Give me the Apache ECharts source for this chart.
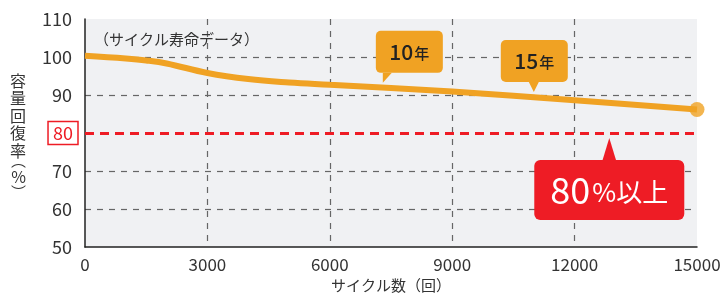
<!DOCTYPE html>
<html>
<head>
<meta charset="utf-8">
<script src="https://cdn.jsdelivr.net/npm/echarts@6/dist/echarts.min.js"></script>
<style>
  html, body { margin: 0; padding: 0; background: #fff; }
  #chart { width: 728px; height: 296px; }
</style>
</head>
<body>
<div id="chart"></div>
<script>
const cycles = [0, 1000, 1500, 2000, 3000, 4000, 5000, 6000, 9000, 12000, 15000]
const capacity = [100.3, 99.6, 99.1, 98.3, 95.8, 94.2, 93.3, 92.7, 90.9, 88.6, 86.2]
const xTicks = [0, 3000, 6000, 9000, 12000, 15000]
const yTicks = [50, 60, 70, 80, 90, 100, 110]
const threshold = 80
// callout anchors [cycles, value] and their text
const yearCallouts = [[7300, 93.2, '10'], [11000, 90.8, '15']]
const limitCallout = [[12850, 78.7, '80']]

const font = '"Noto Sans CJK JP", "Noto Sans", sans-serif'
const orange = '#f0a223'
const red = '#ee1c25'

const chart = echarts.init(document.getElementById('chart'))

function renderYear(params, api) {
  const p = api.coord([api.value(0), api.value(1)])
  const left = params.dataIndex === 0 ? p[0] - 7 : p[0] - 33
  const w = 67, h = 42
  const bottom = p[1] - 10
  const tri = params.dataIndex === 0
    ? [[p[0], p[1]], [p[0], bottom], [p[0] + 9, bottom]]
    : [[p[0], p[1]], [p[0] - 5, bottom], [p[0] + 5, bottom]]
  return {
    type: 'group',
    children: [
      { type: 'polygon', shape: { points: tri }, style: { fill: orange } },
      { type: 'rect', shape: { x: left, y: bottom - h, width: w, height: h, r: 5 }, style: { fill: orange } },
      {
        type: 'text',
        x: left + w / 2, y: bottom - h / 2,
        style: {
          text: '{a|' + api.value(2) + '}{b|年}',
          align: 'center', verticalAlign: 'middle',
          rich: {
            a: { fontSize: 21, fontFamily: font, fill: '#222', fontWeight: 500 },
            b: { fontSize: 15, fontFamily: font, fill: '#222', fontWeight: 500, padding: [3, 0, 0, 1] }
          }
        }
      }
    ]
  }
}

function renderLimit(params, api) {
  const p = api.coord([api.value(0), api.value(1)])
  const w = 150, h = 60
  const top = p[1] + 22
  const left = p[0] - 75
  return {
    type: 'group',
    children: [
      { type: 'polygon', shape: { points: [[p[0], p[1]], [p[0] - 7, top + 1], [p[0] + 7, top + 1]] }, style: { fill: red } },
      { type: 'rect', shape: { x: left, y: top, width: w, height: h, r: 6 }, style: { fill: red } },
      {
        type: 'text',
        x: left + w / 2, y: top + h / 2,
        style: {
          text: '{a|' + api.value(2) + '}{b|%以上}',
          align: 'center', verticalAlign: 'middle',
          rich: {
            a: { fontSize: 36, fontFamily: font, fill: '#fff' },
            b: { fontSize: 26, fontFamily: font, fill: '#fff', padding: [4, 0, 0, 2] }
          }
        }
      }
    ]
  }
}

const option = {
  animation: false,
  textStyle: { fontFamily: font },
  grid: {
    left: 85, right: 31, top: 19, bottom: 49,
    outerBoundsMode: 'none',
    containLabel: false,
    show: true, backgroundColor: '#f0f1f3', borderWidth: 0
  },
  title: {
    text: '（サイクル寿命データ）',
    left: 89, top: 27,
    textStyle: { fontSize: 15, fontWeight: 'normal', color: '#333', fontFamily: font }
  },
  xAxis: {
    type: 'value',
    min: xTicks[0], max: xTicks[xTicks.length - 1], interval: 3000,
    name: 'サイクル数（回）',
    nameLocation: 'middle', nameGap: 31,
    nameTextStyle: { fontSize: 15, color: '#333', fontFamily: font },
    axisLine: { lineStyle: { color: '#222', width: 1.5 } },
    axisTick: { show: false },
    axisLabel: { fontSize: 17, color: '#333', margin: 9, fontFamily: font, formatter: v => String(v) },
    splitLine: {
      show: true,
      lineStyle: {
        color: xTicks.map((t, i) => (i === 0 || i === xTicks.length - 1) ? 'transparent' : '#666'),
        type: [6, 6], width: 1.2
      }
    }
  },
  yAxis: {
    type: 'value',
    min: yTicks[0], max: yTicks[yTicks.length - 1], interval: 10,
    name: ['{k|容}', '{k|量}', '{k|回}', '{k|復}', '{k|率}', '{o|︵}', '{q|%}', '{c|︶}'].join('\n'),
    nameLocation: 'middle', nameGap: 59, nameRotate: 0,
    nameTextStyle: {
      fontSize: 16, color: '#333', fontFamily: font,
      rich: {
        k: { fontSize: 16, lineHeight: 17.5, color: '#333', fontFamily: font },
        o: { fontSize: 15, lineHeight: 10, padding: [0, 0, 7, 0], color: '#333', fontFamily: font },
        q: { fontSize: 16, lineHeight: 15, color: '#333', fontFamily: font },
        c: { fontSize: 15, lineHeight: 10, padding: [7, 0, 0, 0], color: '#333', fontFamily: font }
      }
    },
    axisLine: { show: true, lineStyle: { color: '#222', width: 1.5 } },
    axisTick: { show: false },
    axisLabel: {
      margin: 7,
      formatter: v => v === threshold ? '{r|' + v + '}' : '{n|' + v + '}',
      rich: {
        n: { fontSize: 18, color: '#333', padding: [3, 6, 3, 6], fontFamily: font },
        r: { fontSize: 18, color: red, padding: [3, 5, 2, 5], borderColor: red, borderWidth: 1.5, fontFamily: font }
      }
    },
    splitLine: {
      show: true,
      lineStyle: {
        color: yTicks.map(t => (t === yTicks[0] || t === threshold || t === yTicks[yTicks.length - 1]) ? 'transparent' : '#666'),
        type: [6, 6], width: 1.2
      }
    }
  },
  series: [
    {
      type: 'line',
      data: cycles.map((c, i) => [c, capacity[i]]),
      smooth: 0.4,
      symbol: 'none',
      lineStyle: { color: orange, width: 6 },
      markLine: {
        silent: true,
        symbol: 'none',
        label: { show: false },
        lineStyle: { color: red, width: 3, type: [9, 6] },
        data: [{ yAxis: threshold }]
      },
      z: 3
    },
    {
      type: 'scatter',
      data: [[cycles[cycles.length - 1], capacity[capacity.length - 1]]],
      symbolSize: 15,
      itemStyle: { color: orange },
      z: 4
    },
    {
      type: 'custom',
      renderItem: renderYear,
      data: yearCallouts,
      z: 5
    },
    {
      type: 'custom',
      renderItem: renderLimit,
      data: limitCallout,
      z: 5
    }
  ]
}

chart.setOption(option)
</script>
</body>
</html>
